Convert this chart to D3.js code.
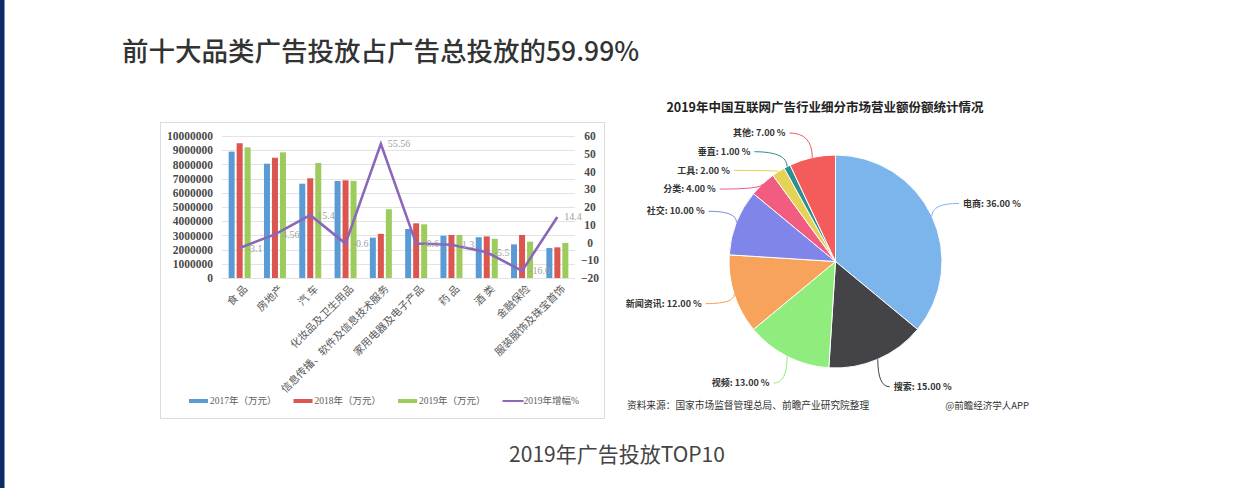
<!DOCTYPE html>
<html><head><meta charset="utf-8">
<script src="https://cdn.jsdelivr.net/npm/d3@7"></script>
<style>body{margin:0;background:#fff;} svg{display:block;}</style>
</head><body><svg id="c" width="1254" height="488"></svg>
<script>
// ---------- data ----------
const categories = ["食 品","房地产","汽 车","化妆品及卫生用品","信息传播、软件及信息技术服务","家用电器及电子产品","药 品","酒 类","金融保险","服装服饰及珠宝首饰"];
const seriesNames = ["2017年（万元）","2018年（万元）","2019年（万元）"];
const values2017 = [8900000, 8050000, 6640000, 6830000, 2840000, 3450000, 2980000, 2870000, 2370000, 2110000];
const values2018 = [9490000, 8470000, 7020000, 6880000, 3110000, 3850000, 3030000, 2930000, 3030000, 2160000];
const values2019 = [9200000, 8850000, 8100000, 6840000, 4840000, 3780000, 3030000, 2760000, 2560000, 2470000];
const growthName = "2019年增幅%";
const growth2019 = [-3.1, 4.56, 15.4, -0.6, 55.56, -0.6, -1.3, -5.5, -16.0, 14.4];
const growthLabels = ["-3.1","4.56","15.4","-0.6","55.56","-0.6","-1.3","-5.5","-16.0","14.4"];
const leftTicks = [0,1000000,2000000,3000000,4000000,5000000,6000000,7000000,8000000,9000000,10000000];
const rightTicks = [-20,-10,0,10,20,30,40,50,60];

const pieTitle = "2019年中国互联网广告行业细分市场营业额份额统计情况";
const pieNames = ["电商","搜索","视频","新闻资讯","社交","分类","工具","垂直","其他"];
const pieValues = [36,15,13,12,10,4,2,1,7];

const mainTitle = "前十大品类广告投放占广告总投放的59.99%";
const caption = "2019年广告投放TOP10";
const sourceText = "资料来源：国家市场监督管理总局、前瞻产业研究院整理";
const creditText = "@前瞻经济学人APP";

// ---------- styles ----------
const barColors = ["#5b9bd5","#dc5650","#9dcb5c"];
const lineColor = "#8a67b8";
const pieColors = ["#7cb5ec","#434348","#90ed7d","#f7a35c","#8085e9","#f15c80","#e4d354","#2b908f","#f45b5b"];
const serif = "'Liberation Serif','Times New Roman','Noto Sans CJK SC',serif";
const sans = "'Noto Sans CJK SC','Noto Sans',sans-serif";

const svg = d3.select("#c");

// page decorations
svg.append("rect").attr("x",0).attr("y",0).attr("width",4).attr("height",488).attr("fill","#0d2a63");
svg.append("rect").attr("x",4).attr("y",0).attr("width",1).attr("height",488).attr("fill","#7b93c2");

svg.append("text").attr("x",122).attr("y",61).attr("font-family",sans).attr("font-size",26.5)
  .attr("font-weight",500).attr("fill","#333").text(mainTitle);
svg.append("text").attr("x",617).attr("y",462).attr("text-anchor","middle").attr("font-family",sans)
  .attr("font-size",21).attr("fill","#444").text(caption);

// ---------- left combo chart ----------
const box = svg.append("g");
box.append("rect").attr("x",160.5).attr("y",122.5).attr("width",444).attr("height",296)
  .attr("fill","#fff").attr("stroke","#dcdcdc");

const x = d3.scaleBand().domain(categories).range([222,575]);
const xSub = d3.scaleBand().domain([0,1,2]).range([-11,11]).paddingInner(0.25);
const yL = d3.scaleLinear().domain([0,10000000]).range([278,136]);
const yR = d3.scaleLinear().domain([-20,60]).range([278,136]);
const cx = c => x(c) + x.bandwidth()/2;

box.append("g").selectAll("line").data(leftTicks).join("line")
  .attr("x1",222).attr("x2",575).attr("y1",d=>Math.round(yL(d))+0.5).attr("y2",d=>Math.round(yL(d))+0.5)
  .attr("stroke","#e3e3e3");

const axL = box.append("g").attr("transform","translate(222,0)")
  .call(d3.axisLeft(yL).tickValues(leftTicks).tickSize(0).tickPadding(9).tickFormat(d3.format("d")));
axL.select(".domain").remove();
axL.selectAll("text").attr("font-family",serif).attr("font-size",11.5).attr("font-weight","bold").attr("fill","#4a4a4a");

const axR = box.append("g").attr("transform","translate(575,0)")
  .call(d3.axisRight(yR).tickValues(rightTicks).tickSize(0).tickPadding(15).tickFormat(d3.format("d")));
axR.select(".domain").remove();
axR.selectAll("text").attr("text-anchor","middle").attr("font-family",serif).attr("font-size",11.5)
  .attr("font-weight","bold").attr("fill","#4a4a4a");

const series = [values2017, values2018, values2019];
series.forEach((vals,si)=>{
  box.append("g").selectAll("rect").data(vals).join("rect")
    .attr("x",(d,i)=>cx(categories[i]) + xSub(si))
    .attr("width",xSub.bandwidth())
    .attr("y",d=>yL(d)).attr("height",d=>yL(0)-yL(d))
    .attr("fill",barColors[si]);
});

const axB = box.append("g").attr("transform","translate(0,278)")
  .call(d3.axisBottom(x).tickSize(0));
axB.select(".domain").remove();
axB.selectAll("text").attr("x",0).attr("y",0).attr("dy","0.35em")
  .attr("transform","translate(6,9) rotate(-45)").attr("text-anchor","end")
  .attr("font-family",serif).attr("font-size",10.5).attr("fill","#595959");

const line = d3.line().x((d,i)=>cx(categories[i])).y(d=>yR(d));
box.append("path").datum(growth2019).attr("d",line).attr("fill","none")
  .attr("stroke",lineColor).attr("stroke-width",2.6).attr("stroke-linejoin","miter");
box.append("g").selectAll("text").data(growth2019).join("text")
  .attr("x",(d,i)=>cx(categories[i])+7).attr("y",d=>yR(d)).attr("dy","0.35em")
  .attr("font-family",serif).attr("font-size",10).attr("fill","#a0a0a0")
  .text((d,i)=>growthLabels[i]);

// legend
const legendItems = seriesNames.map((n,i)=>({name:n,color:barColors[i],type:"bar"}))
  .concat([{name:growthName,color:lineColor,type:"line"}]);
const lg = box.append("g");
let lx = 0;
legendItems.forEach((it,i)=>{
  const g = lg.append("g").attr("transform",`translate(${lx},0)`);
  if(it.type==="bar") g.append("rect").attr("x",0).attr("y",-2).attr("width",19).attr("height",4).attr("fill",it.color);
  else g.append("line").attr("x1",0).attr("x2",21).attr("y1",0).attr("y2",0).attr("stroke",it.color).attr("stroke-width",2);
  const t = g.append("text").attr("x",21).attr("y",0).attr("dy","0.35em").attr("font-family",serif)
    .attr("font-size",9.5).attr("fill","#606060").text(it.name);
  lx += 21 + t.node().getComputedTextLength() + 17;
});
lx -= 17;
lg.attr("transform",`translate(${384 - lx/2},401)`);

// ---------- right pie chart ----------
const pcx = 835.5, pcy = 261.5, pr = 106.5;
svg.append("text").attr("x",825).attr("y",112).attr("text-anchor","middle").attr("font-family",sans)
  .attr("font-size",12.5).attr("font-weight","bold").attr("fill","#222").text(pieTitle);

const pie = d3.pie().sort(null).value(d=>d);
const arcs = pie(pieValues);
const arc = d3.arc().innerRadius(0).outerRadius(pr);
const pg = svg.append("g").attr("transform",`translate(${pcx},${pcy})`);
pg.selectAll("path").data(arcs).join("path").attr("d",arc)
  .attr("fill",(d,i)=>pieColors[i]).attr("stroke","#fff").attr("stroke-width",1);

// label layout (Highcharts-like distribution)
const R = pr + 30;
const labs = arcs.map((a,i)=>{
  const m = (a.startAngle + a.endAngle)/2;
  return {i, m, side: m < Math.PI ? 1 : -1, y: -R*Math.cos(m),
          ex: pr*Math.sin(m), ey: -pr*Math.cos(m)};
});
[1,-1].forEach(side=>{
  const s = labs.filter(l=>l.side===side).sort((a,b)=>a.y-b.y);
  let prev = -pr - 22 - 18.7;
  s.forEach(l=>{ l.y = Math.max(l.y, prev + 18.7); prev = l.y; });
});
labs.forEach(l=>{
  const dx = Math.sqrt(Math.max(0, R*R - l.y*l.y));
  l.x = l.side*dx;
});
pg.selectAll("path.conn").data(labs).join("path").attr("class","conn")
  .attr("d",l=>`M${l.x},${l.y} Q${l.ex},${l.y} ${l.ex},${l.ey}`)
  .attr("fill","none").attr("stroke",l=>pieColors[l.i]).attr("stroke-width",1);
pg.selectAll("text.lab").data(labs).join("text").attr("class","lab")
  .attr("x",l=>l.x + l.side*4).attr("y",l=>l.y).attr("dy","0.35em")
  .attr("text-anchor",l=>l.side>0?"start":"end")
  .attr("font-family",sans).attr("font-size",9).attr("font-weight","bold").attr("fill","#333")
  .text(l=>`${pieNames[l.i]}: ${pieValues[l.i].toFixed(2)} %`);

svg.append("text").attr("x",627).attr("y",409).attr("font-family",sans).attr("font-size",9.7)
  .attr("fill","#333").text(sourceText);
svg.append("text").attr("x",1029).attr("y",409).attr("text-anchor","end").attr("font-family",sans)
  .attr("font-size",9.5).attr("fill","#333").text(creditText);
</script>
</body></html>
